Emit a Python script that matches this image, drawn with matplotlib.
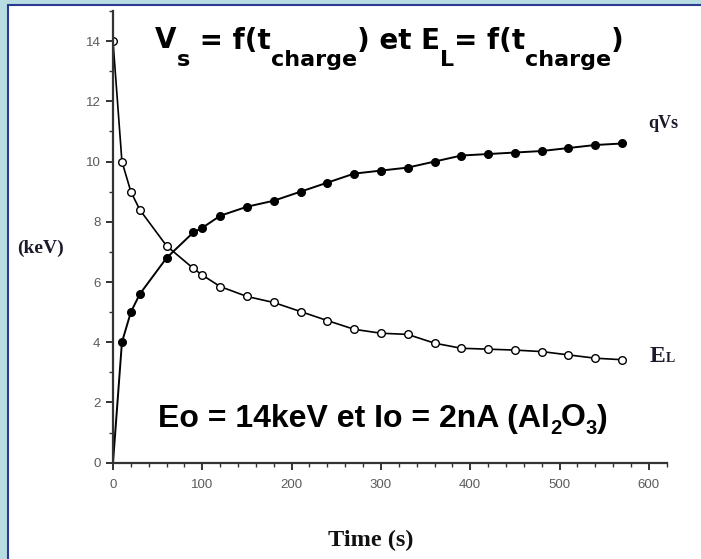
import matplotlib.pyplot as plt
from matplotlib.patches import Rectangle
from matplotlib.ticker import MultipleLocator

# charging time (s)
t_vs = [0, 10, 20, 30, 60, 90, 100, 120, 150, 180, 210, 240, 270, 300,
        330, 360, 390, 420, 450, 480, 510, 540, 570]
qvs = [0, 4.0, 5.0, 5.6, 6.8, 7.65, 7.8, 8.2, 8.5, 8.7, 9.0, 9.3, 9.6, 9.7,
       9.8, 10.0, 10.2, 10.25, 10.3, 10.35, 10.45, 10.55, 10.6]

t_el = [0, 10, 20, 30, 60, 90, 100, 120, 150, 180, 210, 240, 270, 300,
        330, 360, 390, 420, 450, 480, 510, 540, 570]
el = [14.0, 10.0, 9.0, 8.4, 7.2, 6.45, 6.23, 5.85, 5.52, 5.32, 5.02, 4.72,
      4.43, 4.30, 4.26, 3.97, 3.80, 3.77, 3.74, 3.69, 3.58, 3.47, 3.42]

xticks = [0, 100, 200, 300, 400, 500, 600]
yticks = [0, 2, 4, 6, 8, 10, 12, 14]

# (text, is_subscript)
title_parts = [("V", 0), ("s", 1), (" = f(t", 0), ("charge", 1), (") et E", 0),
               ("L", 1), ("= f(t", 0), ("charge", 1), (")", 0)]
cond_parts = [("Eo = 14keV et Io = 2nA (Al", 0), ("2", 1), ("O", 0), ("3", 1), (")", 0)]

W, H = 701, 559
fig = plt.figure(figsize=(W / 100, H / 100), dpi=100)
fig.patch.set_facecolor('#b7dde2')

# white slide panel with blue frame
fig.patches.append(Rectangle((8 / W, -0.1), 1.1, 1.1 - 5.5 / H, transform=fig.transFigure,
                             facecolor='white', edgecolor='#2a3a92', linewidth=1.5,
                             zorder=-5))

ax = fig.add_axes([113 / W, 1 - 462.7 / H, 553.7 / W, 451.7 / H])
ax.set_facecolor('none')

ax.plot(t_vs, qvs, color='black', lw=1.4, marker='o', ms=5.5,
        mfc='black', mec='black', markevery=list(range(1, len(t_vs))))
ax.plot(t_el, el, color='black', lw=1.2, marker='o', ms=5.5,
        mfc='white', mec='black', mew=1.0)

ax.set_xlim(0, 620)
ax.set_ylim(0, 15)
ax.set_xticks(xticks)
ax.set_yticks(yticks)
ax.xaxis.set_minor_locator(MultipleLocator(20))
ax.yaxis.set_minor_locator(MultipleLocator(1))

for s in ['top', 'right']:
    ax.spines[s].set_visible(False)
for s in ['left', 'bottom']:
    ax.spines[s].set_color('#333333')
    ax.spines[s].set_linewidth(1.6)

ax.tick_params(which='major', direction='out', length=5, width=1.4,
               color='#333333', labelcolor='#5a5a5a', labelsize=9.5)
ax.tick_params(axis='x', which='major', pad=7)
ax.tick_params(axis='y', which='major', pad=4)
ax.tick_params(which='minor', direction='out', length=3, width=1.0, color='#333333')
for lab in ax.get_xticklabels() + ax.get_yticklabels():
    lab.set_family('Liberation Sans')

renderer = fig.canvas.get_renderer()


def chain(parts, x0, y0, family, size, sub_size, sub_drop):
    # place text pieces one after another on a shared baseline (pixels)
    x = x0
    for txt, sub in parts:
        y = y0 + sub_drop if sub else y0
        t = fig.text(x / W, 1 - y / H, txt, fontsize=sub_size if sub else size,
                     fontweight='bold', family=family,
                     ha='left', va='baseline')
        x += t.get_window_extent(renderer).width


chain(title_parts, 155, 48.5, 'DejaVu Sans', 20, 16, 17)
chain(cond_parts, 158, 426.5, 'Liberation Sans', 23, 14.5, 8)

fig.text(40 / W, 1 - 248 / H, '(keV)', fontsize=14, fontweight='bold',
         family='Liberation Serif', ha='center', va='center', color='#1a1a2a')
fig.text(663 / W, 1 - 124 / H, 'qVs', fontsize=13, fontweight='bold',
         family='Liberation Serif', ha='center', va='center', color='#1a1a2a')
fig.text(650 / W, 1 - 362 / H, 'E', fontsize=17, fontweight='bold',
         family='Liberation Serif', ha='left', va='baseline', color='#1a1a2a')
fig.text(666 / W, 1 - 362 / H, 'L', fontsize=10, fontweight='bold',
         family='Liberation Serif', ha='left', va='baseline', color='#1a1a2a')
fig.text(371 / W, 1 - 540 / H, 'Time (s)', fontsize=17.5, fontweight='bold',
         family='Liberation Serif', ha='center', va='center', color='#111111')

fig.savefig('out.png', dpi=100, facecolor=fig.get_facecolor())
